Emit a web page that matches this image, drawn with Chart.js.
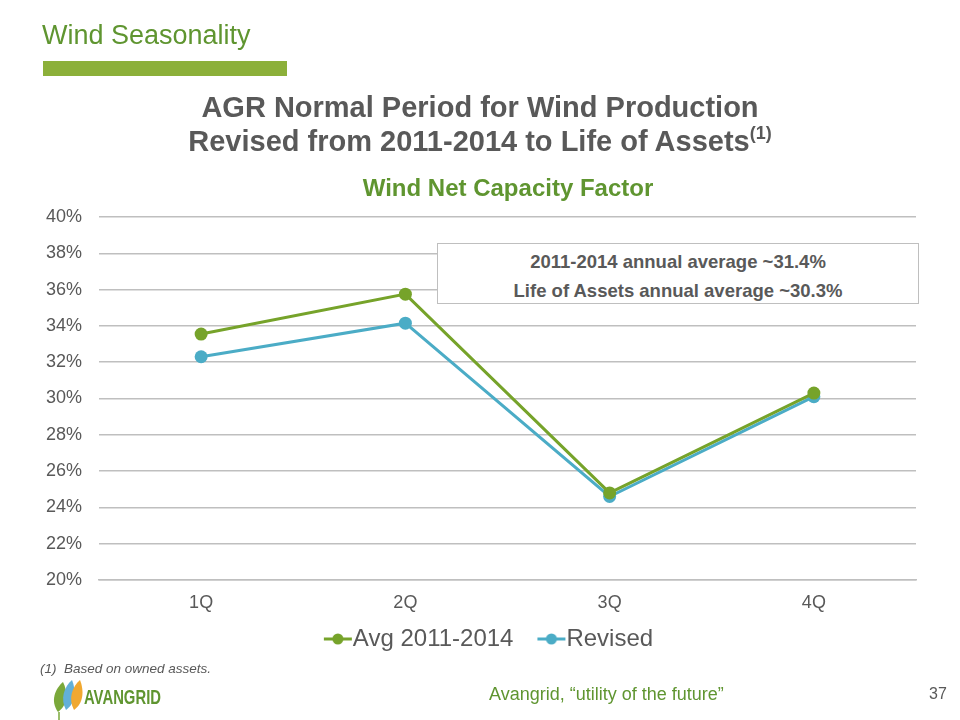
<!DOCTYPE html>
<html>
<head>
<meta charset="utf-8">
<script src="https://cdn.jsdelivr.net/npm/chart.js@4.4.0/dist/chart.umd.min.js"></script>
<style>
    body { margin: 0; width: 960px; height: 720px; position: relative; background: #fff; font-family: "Liberation Sans", Arial, sans-serif; overflow: hidden; }
    #wrap { position: absolute; left: 0; top: 0; width: 960px; height: 720px; }
    .abs { position: absolute; white-space: nowrap; }
    #slideTitle { left: 42px; top: 20px; font-size: 27px; color: #5f9530; }
    #bar { left: 43px; top: 61px; width: 244px; height: 15px; background: #8cb03a; }
    #mainTitle { left: 0; width: 960px; top: 90px; text-align: center; font-size: 29px; font-weight: bold; color: #595959; line-height: 34px; }
    #mainTitle sup { font-size: 18px; vertical-align: 12px; line-height: 0; }
    #chartTitle { left: 100px; width: 816px; top: 174px; text-align: center; font-size: 24px; font-weight: bold; color: #5f9530; }
    #note { left: 437px; top: 243px; border: 1.5px solid #bfbfbf; background: #fff; text-align: center; font-size: 18.5px; font-weight: bold; color: #595959; line-height: 29px; padding-top: 3px; box-sizing: border-box; height: 61px; width: 482px; }
    #foot { left: 40px; top: 661px; font-size: 13.5px; font-style: italic; color: #595959; }
    #tag { left: 489px; top: 684px; font-size: 18px; color: #5f9530; }
    #page { left: 929px; top: 685px; font-size: 16px; color: #595959; }
    #logo { left: 48px; top: 678px; }
</style>
</head>
<body>
<div id="wrap"><canvas id="chart" width="960" height="720"></canvas></div>
<div class="abs" id="slideTitle">Wind Seasonality</div>
<div class="abs" id="bar"></div>
<div class="abs" id="mainTitle">AGR Normal Period for Wind Production<br>Revised from 2011-2014 to Life of Assets<sup>(1)</sup></div>
<div class="abs" id="chartTitle">Wind Net Capacity Factor</div>
<div class="abs" id="note">2011-2014 annual average ~31.4%<br>Life of Assets annual average ~30.3%</div>
<div class="abs" id="foot">(1)&nbsp; Based on owned assets.</div>
<div class="abs" id="logo">
    <svg width="170" height="42" viewBox="0 0 170 42">
        <path d="M10 34 C2 23 7 11 15 4 C20 14 20 27 10 34 Z" fill="#7aa83a"/>
        <path d="M18 32 C12 21 16 9 24 2 C28 12 28 25 18 32 Z" fill="#62b0d8"/>
        <path d="M26 32 C20 21 24 9 32 2 C36 12 36 25 26 32 Z" fill="#f0a830"/>
        <line x1="11" y1="34" x2="11" y2="42" stroke="#7aa83a" stroke-width="1.5"/>
        <text x="36" y="26" font-family="Liberation Sans, sans-serif" font-weight="bold" font-size="21" fill="#5f9530" textLength="77" lengthAdjust="spacingAndGlyphs">AVANGRID</text>
    </svg>
</div>
<div class="abs" id="tag">Avangrid, “utility of the future”</div>
<div class="abs" id="page">37</div>

<script>
// Chart data
const quarters = ['1Q', '2Q', '3Q', '4Q'];
const avg20112014 = [33.55, 35.75, 24.8, 30.3];
const revised = [32.3, 34.15, 24.6, 30.1];

const GREEN = '#76a32a';
const BLUE = '#4bacc6';
const TEXT = '#595959';

// Legend marker: short line with a dot, shifted right so the text follows it closely
function legendMarker(color) {
    const c = document.createElement('canvas');
    c.width = 50;
    c.height = 14;
    const ctx = c.getContext('2d');
    ctx.strokeStyle = color;
    ctx.lineWidth = 3;
    ctx.beginPath();
    ctx.moveTo(20, 7);
    ctx.lineTo(48, 7);
    ctx.stroke();
    ctx.fillStyle = color;
    ctx.beginPath();
    ctx.arc(34, 7, 5.5, 0, Math.PI * 2);
    ctx.fill();
    return c;
}

function makeSeries(label, data, color) {
    return {
        label: label,
        data: data,
        borderColor: color,
        backgroundColor: color,
        borderWidth: 3,
        tension: 0,
        fill: false,
        pointRadius: 6.5,
        pointHoverRadius: 6.5,
        pointBackgroundColor: color,
        pointBorderColor: color,
        pointBorderWidth: 0,
        pointStyle: 'circle'
    };
}

// Nudge the legend so it sits under the middle of the slide, a bit higher
const legendShift = {
    id: 'legendShift',
    afterLayout(chart) {
        if (!chart.legend) return;
        chart.legend.left += 27;
        chart.legend.right += 27;
        chart.legend.top -= 5;
        chart.legend.bottom -= 5;
    }
};

new Chart(document.getElementById('chart'), {
    type: 'line',
    data: {
        labels: quarters,
        datasets: [
            makeSeries('Avg 2011-2014', avg20112014, GREEN),
            makeSeries('Revised', revised, BLUE)
        ]
    },
    options: {
        responsive: false,
        animation: false,
        events: [],
        layout: {
            padding: { top: 217, right: 44, bottom: 54, left: 0 }
        },
        plugins: {
            legend: {
                position: 'bottom',
                labels: {
                    usePointStyle: true,
                    color: TEXT,
                    font: { family: 'Liberation Sans', size: 24 },
                    padding: 17,
                    generateLabels: function(chart) {
                        return chart.data.datasets.map((ds, i) => ({
                            text: ds.label,
                            fontColor: TEXT,
                            pointStyle: legendMarker(ds.borderColor),
                            datasetIndex: i,
                            lineWidth: 0,
                            strokeStyle: 'transparent',
                            fillStyle: 'transparent'
                        }));
                    }
                }
            },
            tooltip: { enabled: false }
        },
        scales: {
            y: {
                min: 20,
                max: 40,
                ticks: {
                    stepSize: 2,
                    color: TEXT,
                    font: { family: 'Liberation Sans', size: 18 },
                    padding: 17,
                    callback: function(value) {
                        return value + '%';
                    }
                },
                grid: {
                    color: '#bfbfbf',
                    lineWidth: 1.5,
                    drawTicks: false
                },
                border: { display: false },
                afterFit: function(scale) {
                    scale.width = 99;
                }
            },
            x: {
                offset: true,
                ticks: {
                    color: TEXT,
                    font: { family: 'Liberation Sans', size: 18 },
                    padding: 12
                },
                grid: { display: false, drawTicks: false },
                border: { display: true, color: '#bfbfbf', width: 1.5 },
                afterFit: function(scale) {
                    scale.height = 35;
                }
            }
        }
    },
    plugins: [legendShift]
});
</script>
</body>
</html>
